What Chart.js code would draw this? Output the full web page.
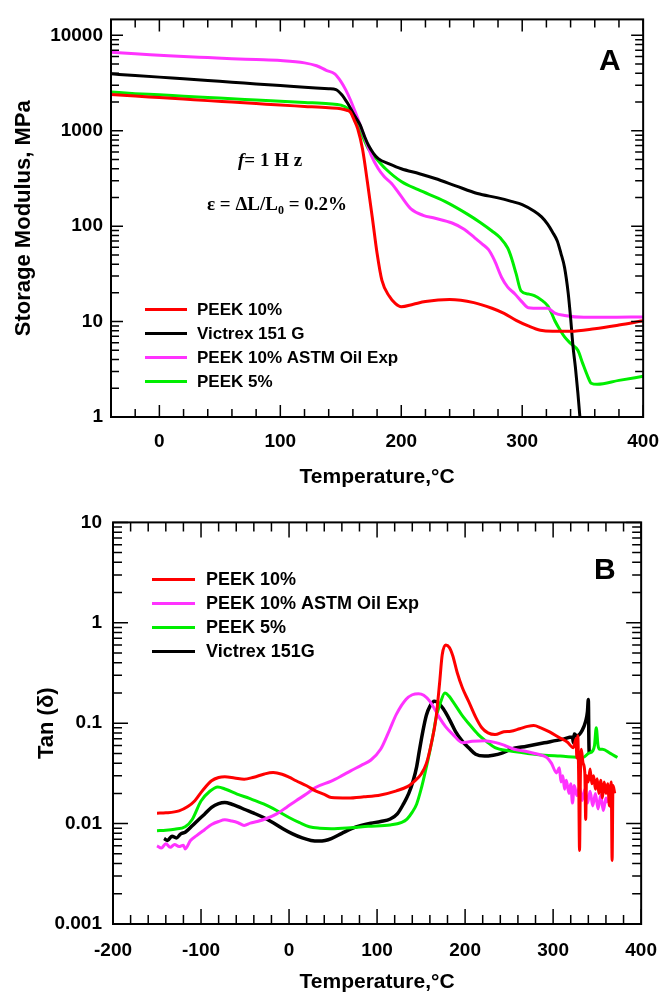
<!DOCTYPE html>
<html>
<head>
<meta charset="utf-8">
<script src="https://cdn.jsdelivr.net/npm/chart.js@4.4.1/dist/chart.umd.min.js"></script>
<style>
  body { margin: 0; background: #fff; }
  canvas { display: block; }
</style>
</head>
<body>
<canvas id="chartA" width="672" height="500"></canvas>
<canvas id="chartB" width="672" height="499"></canvas>
<script>
// ---- Panel A: storage modulus (MPa) vs temperature (C) ----
const tempRedA = [-40,-20,0,20,40,60,80,100,120,140,150,155,158,161,164,168,172,176,180,184,190,195,200,210,220,240,260,275,285,295,305,315,325,340,360,380,400];
const modRedA = [2400,2310,2230,2150,2070,2000,1930,1860,1800,1740,1700,1640,1570,1300,1050,640,290,125,52,27,18.5,15.5,14.3,15.2,16.2,17,15.8,13.8,12.2,10.3,9.0,8.1,7.9,7.9,8.4,9.2,10.2];

const tempBlackA = [-40,-20,0,20,40,60,80,100,120,140,146,151,155,158,162,166,170,173,177,181,190,200,215,228,245,263,280,291,300,310,316,321,325,329,332,335,338,340,342,344,346,348];
const modBlackA = [3950,3800,3650,3500,3360,3230,3100,2980,2860,2760,2700,2370,2000,1720,1400,1150,850,700,580,510,450,400,355,316,265,220,198,182,168,143,125,105,87,70,52,37,20,11,5.5,3.3,1.8,0.9];

const tempPinkA = [-40,-20,0,20,40,60,80,100,120,130,138,145,150,154,158,162,166,170,175,181,186,192,200,208,218,228,242,252,261,267,272,277,283,288,294,300,305,315,321,327,335,351,370,400];
const modPinkA = [6650,6400,6200,6000,5850,5700,5580,5450,5150,4800,4300,3950,3300,2700,2100,1570,1150,830,560,400,330,280,205,152,130,121,108,93,75,65,57,44,29,23,19.5,16,14,13.8,13.8,12.3,11.6,11.1,11.1,11.2];

const tempGreenA = [-40,-20,0,20,40,60,80,100,120,140,150,156,160,164,168,173,180,187,200,214,236,255,265,275,282,288,291,295,299,305,310,316,321,324,327,331,335,340,346,350,354,357,362,380,400];
const modGreenA = [2550,2450,2380,2300,2230,2170,2100,2040,1980,1920,1860,1700,1450,1150,880,640,500,400,294,241,182,133,110,89,75,59,47,31.6,21,19.5,18.7,16.8,14.7,12.5,10.2,8.3,6.9,5.9,5.0,3.65,2.7,2.26,2.2,2.42,2.67];

const xTicksA = [0, 100, 200, 300, 400];
const yTicksA = [1, 10, 100, 1000, 10000];

// ---- Panel B: tan delta vs temperature (C) ----
const tempRedB = [-150,-140,-125,-115,-107,-98,-88,-80,-73,-62,-51,-40,-28,-18,-8,0,8,20,30,40,48,67,85,104,122,135,141,150,156,162,167,171,174,178,182,186,191,197,204,212,219,226,234,244,252,262,271,278,286,296,308,316,323,326,327,328,329,330,331,332,334,336,337,338,340,342,344,346,348,350,352,354,356,358,360,362,364,366,367,368,370];
const tanRedB = [0.0127,0.0128,0.0134,0.0148,0.0169,0.0215,0.0267,0.0288,0.0293,0.0285,0.0276,0.029,0.0312,0.0322,0.031,0.029,0.0267,0.0238,0.0212,0.0195,0.0182,0.018,0.0185,0.0193,0.0212,0.0235,0.0258,0.031,0.0396,0.065,0.113,0.25,0.48,0.6,0.57,0.47,0.32,0.224,0.165,0.115,0.09,0.08,0.077,0.082,0.083,0.088,0.093,0.095,0.09,0.082,0.071,0.065,0.057,0.07,0.045,0.075,0.03,0.0054,0.03,0.055,0.04,0.032,0.011,0.03,0.026,0.035,0.025,0.03,0.022,0.028,0.02,0.027,0.018,0.026,0.02,0.025,0.015,0.026,0.0043,0.024,0.02];

const tempPinkB = [-150,-145,-140,-135,-130,-125,-120,-118,-112,-105,-96,-88,-80,-73,-65,-58,-51,-44,-36,-25,-14,-3,8,20,30,48,60,70,82,93,104,114,122,133,140,147,153,160,166,171,178,186,197,208,222,235,245,256,271,283,293,298,304,307,309,311,313,315,318,320,322,324,327,330,333,336,339,342,345,348,351,354,357,360,362];
const tanPinkB = [0.006,0.0057,0.0063,0.0058,0.0062,0.0059,0.0061,0.0056,0.0068,0.0076,0.0087,0.0098,0.0105,0.0109,0.0106,0.0102,0.0096,0.0101,0.0105,0.0113,0.0125,0.0145,0.0169,0.0198,0.0229,0.0265,0.03,0.0335,0.038,0.043,0.055,0.085,0.123,0.173,0.192,0.197,0.19,0.165,0.135,0.113,0.092,0.0775,0.064,0.066,0.067,0.064,0.06,0.055,0.052,0.049,0.0455,0.04,0.032,0.036,0.026,0.03,0.022,0.027,0.02,0.025,0.016,0.024,0.019,0.023,0.017,0.022,0.016,0.021,0.015,0.02,0.014,0.019,0.0135,0.018,0.016];

const tempGreenB = [-150,-140,-130,-118,-110,-100,-90,-81,-72,-59,-45,-29,-14,0,12,23,35,48,70,90,115,128,134,140,145,150,155,160,164,167,172,177,182,186,196,205,215,225,234,250,271,290,308,334,340,345,347,349,351,353,356,365,373];
const tanGreenB = [0.0085,0.0086,0.0088,0.0093,0.011,0.0168,0.021,0.0232,0.022,0.0197,0.0178,0.0157,0.0135,0.0115,0.0102,0.0093,0.009,0.0089,0.0091,0.0094,0.0097,0.0103,0.0111,0.013,0.0157,0.022,0.0335,0.053,0.08,0.113,0.16,0.2,0.185,0.165,0.122,0.097,0.077,0.065,0.057,0.053,0.05,0.048,0.047,0.0455,0.05,0.053,0.06,0.09,0.06,0.055,0.055,0.05,0.0455];

const tempBlackB = [-142,-138,-133,-128,-123,-118,-110,-104,-96,-88,-80,-73,-65,-58,-51,-40,-29,-18,-7,4,15,25,34,41,48,60,71,82,93,104,115,123,130,136,141,145,148,152,156,160,165,170,175,182,189,197,204,212,222,232,241,252,270,290,310,322,323,324,327,333,337,339,340,340.7,341];
const tanBlackB = [0.0071,0.0068,0.0075,0.0072,0.0079,0.0082,0.0095,0.0107,0.0124,0.0145,0.0158,0.0162,0.0156,0.0148,0.0139,0.0127,0.0115,0.0102,0.0089,0.0079,0.0072,0.0068,0.0067,0.0068,0.0071,0.008,0.0089,0.0096,0.0101,0.0105,0.0111,0.0125,0.0157,0.02,0.0267,0.037,0.053,0.083,0.12,0.147,0.165,0.158,0.14,0.11,0.083,0.066,0.057,0.049,0.047,0.048,0.05,0.055,0.059,0.0638,0.069,0.073,0.064,0.078,0.075,0.085,0.105,0.13,0.172,0.06,0.05];

const xTicksB = [-200, -100, 0, 100, 200, 300, 400];
const yTicksB = [0.001, 0.01, 0.1, 1, 10];

const RED = '#ff0000', BLACK = '#000000', PINK = '#ff33ff', GREEN = '#00ee00';
const SANS = '"Liberation Sans", Arial, sans-serif';
const SERIF = '"Liberation Serif", "Times New Roman", serif';

function pts(xs, ys) {
    return xs.map((x, i) => ({ x: x, y: ys[i] }));
}

function series(label, color, xs, ys, width) {
    return {
        label: label,
        data: pts(xs, ys),
        borderColor: color,
        borderWidth: width || 3,
        pointRadius: 0,
        fill: false,
        cubicInterpolationMode: 'monotone'
    };
}

// frame with inward ticks on all four sides
const boxTicks = {
    id: 'boxTicks',
    afterDraw(chart, args, o) {
        const { ctx, chartArea: a } = chart;
        const x = chart.scales.x, y = chart.scales.y;
        ctx.save();
        ctx.strokeStyle = '#000';
        ctx.lineWidth = 1.5;
        ctx.beginPath();
        for (let v = Math.ceil(x.min / o.xStep) * o.xStep; v <= x.max + 1e-9; v += o.xStep) {
            const px = x.getPixelForValue(v);
            const len = Math.abs(v % o.xMajor) < 1e-9 ? o.major : o.minor;
            ctx.moveTo(px, a.bottom); ctx.lineTo(px, a.bottom - len);
            ctx.moveTo(px, a.top); ctx.lineTo(px, a.top + len);
        }
        const e0 = Math.floor(Math.log10(y.min)), e1 = Math.ceil(Math.log10(y.max));
        for (let e = e0; e <= e1; e++) {
            for (let m = 1; m < 10; m++) {
                const v = m * Math.pow(10, e);
                if (v < y.min * 0.999 || v > y.max * 1.001) continue;
                const py = y.getPixelForValue(v);
                const len = m === 1 ? o.major : o.minor;
                ctx.moveTo(a.left, py); ctx.lineTo(a.left + len, py);
                ctx.moveTo(a.right, py); ctx.lineTo(a.right - len, py);
            }
        }
        ctx.stroke();
        ctx.lineWidth = 2;
        ctx.strokeRect(a.left, a.top, a.right - a.left, a.bottom - a.top);
        ctx.restore();
    }
};

// legend drawn inside the plot area
const insetLegend = {
    id: 'insetLegend',
    afterDraw(chart, args, o) {
        const { ctx, chartArea: a } = chart;
        ctx.save();
        ctx.font = o.font;
        ctx.textBaseline = 'middle';
        ctx.fillStyle = '#000';
        chart.data.datasets.forEach((ds, i) => {
            const y = a.top + o.top + i * o.rowGap;
            const x0 = a.left + o.left;
            ctx.strokeStyle = ds.borderColor;
            ctx.lineWidth = 3;
            ctx.beginPath();
            ctx.moveTo(x0, y); ctx.lineTo(x0 + o.lineLen, y);
            ctx.stroke();
            ctx.fillText(ds.label, x0 + o.lineLen + o.gap, y + 1);
        });
        ctx.restore();
    }
};

// panel letter and annotations
const panelText = {
    id: 'panelText',
    afterDraw(chart, args, o) {
        const { ctx, chartArea: a } = chart;
        ctx.save();
        ctx.fillStyle = '#000';
        ctx.textBaseline = 'alphabetic';
        ctx.font = 'bold 30px ' + SANS;
        ctx.fillText(o.letter, a.left + o.letterX, a.top + o.letterY);
        if (o.notes) o.notes(ctx, a);
        ctx.restore();
    }
};

function notesA(ctx, a) {
    let x = 238, y = 166;
    ctx.font = 'italic bold 19px ' + SERIF;
    ctx.fillText('f', x, y);
    x += ctx.measureText('f').width;
    ctx.font = 'bold 19px ' + SERIF;
    ctx.fillText('= 1 H z', x, y);

    x = 207; y = 210;
    ctx.font = 'bold 19px ' + SERIF;
    ctx.fillText('\u03b5 = \u0394L/L', x, y);
    x += ctx.measureText('\u03b5 = \u0394L/L').width;
    ctx.font = 'bold 12px ' + SERIF;
    ctx.fillText('0', x, y + 4);
    x += ctx.measureText('0').width;
    ctx.font = 'bold 19px ' + SERIF;
    ctx.fillText(' = 0.2%', x, y);
}

function makeChart(id, datasets, c) {
    const tickFont = { family: SANS, size: 19, weight: 'bold' };
    return new Chart(document.getElementById(id), {
        type: 'line',
        data: { datasets: datasets },
        options: {
            responsive: false,
            animation: false,
            layout: { padding: { top: c.padTop, right: c.padRight, left: 0, bottom: 0 } },
            plugins: {
                legend: { display: false },
                tooltip: { enabled: false },
                boxTicks: c.ticks,
                insetLegend: c.legend,
                panelText: c.text
            },
            scales: {
                x: {
                    type: 'linear',
                    min: c.xMin, max: c.xMax,
                    grid: { display: false, drawTicks: false },
                    border: { display: false },
                    ticks: { font: tickFont, color: '#000', padding: c.xPad, maxRotation: 0, autoSkip: false,
                             callback: v => String(v) },
                    afterBuildTicks: s => { s.ticks = c.xTicks.map(v => ({ value: v })); },
                    afterFit: s => { s.height = c.xHeight; },
                    title: { display: true, text: 'Temperature,\u00b0C', color: '#000',
                             font: { family: SANS, size: 21, weight: 'bold' },
                             padding: { top: 0, bottom: c.xTitlePad } }
                },
                y: {
                    type: 'logarithmic',
                    min: c.yMin, max: c.yMax,
                    grid: { display: false, drawTicks: false },
                    border: { display: false },
                    ticks: { font: tickFont, color: '#000', padding: c.yPad, autoSkip: false,
                             callback: v => String(v) },
                    afterBuildTicks: s => { s.ticks = c.yTicks.map(v => ({ value: v })); },
                    afterFit: s => { s.width = c.yWidth; },
                    title: { display: true, text: c.yTitle, color: '#000',
                             font: { family: SANS, size: 22, weight: 'bold' },
                             padding: { top: c.yTitlePad, bottom: 0 } }
                }
            }
        },
        plugins: [boxTicks, insetLegend, panelText]
    });
}

makeChart('chartA', [
    series('PEEK 10%', RED, tempRedA, modRedA),
    series('Victrex 151 G', BLACK, tempBlackA, modBlackA),
    series('PEEK 10% ASTM Oil Exp', PINK, tempPinkA, modPinkA),
    series('PEEK 5%', GREEN, tempGreenA, modGreenA)
], {
    padTop: 17, padRight: 27, xHeight: 83, yWidth: 111,
    xMin: -40, xMax: 400, yMin: 1, yMax: 14700,
    xTicks: xTicksA, yTicks: yTicksA,
    xPad: 13, yPad: 8, xTitlePad: 10, yTitlePad: 11,
    yTitle: 'Storage Modulus, MPa',
    ticks: { xStep: 20, xMajor: 100, major: 12, minor: 8 },
    legend: { font: 'bold 17px ' + SANS, left: 34, top: 290, rowGap: 24, lineLen: 42, gap: 10 },
    text: { letter: 'A', letterX: 488, letterY: 51, notes: notesA }
});

makeChart('chartB', [
    series('PEEK 10%', RED, tempRedB, tanRedB),
    series('PEEK 10% ASTM Oil Exp', PINK, tempPinkB, tanPinkB),
    series('PEEK 5%', GREEN, tempGreenB, tanGreenB),
    series('Victrex 151G', BLACK, tempBlackB, tanBlackB, 3.5)
], {
    padTop: 19, padRight: 20, xHeight: 75, yWidth: 113,
    xMin: -200, xMax: 400, yMin: 0.001, yMax: 10,
    xTicks: xTicksB, yTicks: yTicksB,
    xPad: 15, yPad: 11, xTitlePad: 4, yTitlePad: 34,
    yTitle: 'Tan (\u03b4)',
    ticks: { xStep: 20, xMajor: 100, major: 15, minor: 9 },
    legend: { font: 'bold 18px ' + SANS, left: 39, top: 57, rowGap: 24, lineLen: 43, gap: 11 },
    text: { letter: 'B', letterX: 481, letterY: 57 }
});
</script>
</body>
</html>
